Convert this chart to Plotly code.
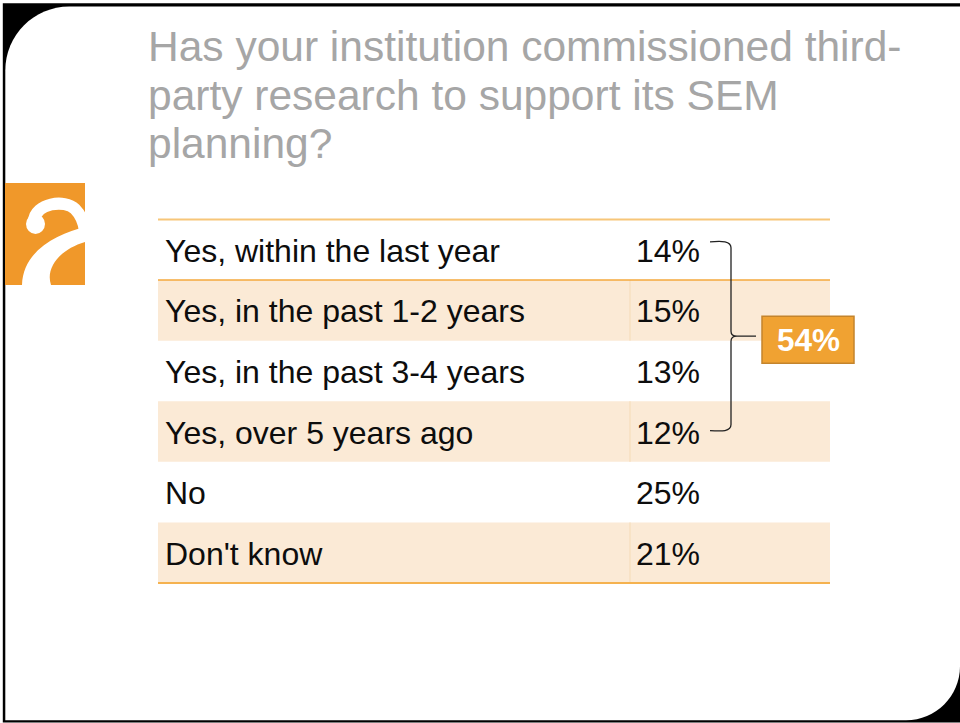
import plotly.graph_objects as go

# ---- survey data ----
question_lines = ["Has your institution commissioned third-",
                  "party research to support its SEM",
                  "planning?"]
answers = ["Yes, within the last year", "Yes, in the past 1-2 years",
           "Yes, in the past 3-4 years", "Yes, over 5 years ago",
           "No", "Don't know"]
shares = [14, 15, 13, 12, 25, 21]
yes_count = 4  # first rows are the "Yes" answers grouped by the brace

W, H = 960, 723
FONT = "Liberation Sans, Arial, Helvetica, sans-serif"

fig = go.Figure()
shapes = []
annotations = []

K = 0.5523  # bezier circle constant


def rounded_frame(x0, y0, x1, y1, r_tl, r_br):
    """Rectangle with rounded top-left and bottom-right corners (y grows downward)."""
    return (f"M {x0},{y0 + r_tl} "
            f"C {x0},{y0 + r_tl * (1 - K)} {x0 + r_tl * (1 - K)},{y0} {x0 + r_tl},{y0} "
            f"L {x1},{y0} L {x1},{y1 - r_br} "
            f"C {x1},{y1 - r_br * (1 - K)} {x1 - r_br * (1 - K)},{y1} {x1 - r_br},{y1} "
            f"L {x0},{y1} Z")


# slide frame: black edge with rounded white card
shapes.append(dict(type="rect", xref="x", yref="y", x0=2.8, y0=3.3, x1=W + 2, y1=722.6,
                   fillcolor="black", line=dict(width=0), layer="below"))
shapes.append(dict(type="path", xref="x", yref="y",
                   path=rounded_frame(5.3, 6.6, W, 720.2, 64, 54),
                   fillcolor="white", line=dict(width=0), layer="below"))

# logo block
lx, ly = 5, 183
ORANGE = "#f0982a"
shapes.append(dict(type="rect", xref="x", yref="y", x0=lx, y0=ly, x1=lx + 80, y1=ly + 102,
                   fillcolor=ORANGE, line=dict(width=0)))


def P(px, py):
    return f"{lx + px},{ly + py}"


# hook stroke of the glyph
shapes.append(dict(type="path", xref="x", yref="y",
                   path=f"M {P(29, 38)} C {P(30, 20)} {P(60, 16)} {P(70, 26)} C {P(76, 32)} {P(79, 40)} {P(80, 48)}",
                   line=dict(color="white", width=12)))
# ball terminal
shapes.append(dict(type="circle", xref="x", yref="y",
                   x0=lx + 21, y0=ly + 31, x1=lx + 40, y1=ly + 51,
                   fillcolor="white", line=dict(width=0)))
# lower swoosh
shapes.append(dict(type="path", xref="x", yref="y",
                   path=(f"M {P(80, 44)} C {P(55, 50)} {P(18, 66)} {P(17, 102)} "
                         f"L {P(46, 102)} C {P(40, 84)} {P(56, 66)} {P(80, 59)} Z"),
                   fillcolor="white", line=dict(width=0)))

# question title
title_mid = [46, 95, 143.5]
for txt, ym in zip(question_lines, title_mid):
    annotations.append(dict(x=146, y=ym, xref="x", yref="y", text=txt, showarrow=False,
                            xanchor="left", yanchor="middle",
                            font=dict(family=FONT, size=42.5, color="#a6a6a6")))

# table
tx0, tx1, tdiv = 158, 830, 630
ttop, rh = 219.5, 60.58
BEIGE = "#fbead6"
for i, (lab, val) in enumerate(zip(answers, shares)):
    y0 = ttop + i * rh
    y1 = y0 + rh
    if i % 2 == 1:
        shapes.append(dict(type="rect", xref="x", yref="y", x0=tx0, y0=y0, x1=tx1, y1=y1,
                           fillcolor=BEIGE, line=dict(width=0), layer="below"))
        shapes.append(dict(type="line", xref="x", yref="y", x0=tdiv, y0=y0, x1=tdiv, y1=y1,
                           line=dict(color="#f5dbb6", width=1)))
    yc = (y0 + y1) / 2 + 1
    annotations.append(dict(x=163, y=yc, xref="x", yref="y", text=lab, showarrow=False,
                            xanchor="left", yanchor="middle",
                            font=dict(family=FONT, size=32, color="#0d0d0d")))
    annotations.append(dict(x=634, y=yc, xref="x", yref="y", text=f"{val}%", showarrow=False,
                            xanchor="left", yanchor="middle",
                            font=dict(family=FONT, size=32, color="#0d0d0d")))

shapes.append(dict(type="line", xref="x", yref="y", x0=tx0, y0=ttop, x1=tx1, y1=ttop,
                   line=dict(color="#f7c679", width=2)))
shapes.append(dict(type="line", xref="x", yref="y", x0=tx0, y0=ttop + rh, x1=tx1, y1=ttop + rh,
                   line=dict(color="#f4a83c", width=1.5)))
shapes.append(dict(type="line", xref="x", yref="y", x0=tx0, y0=ttop + 6 * rh, x1=tx1, y1=ttop + 6 * rh,
                   line=dict(color="#f5b24f", width=2)))

# brace grouping the "Yes" rows
b_top = ttop + 0.5 * rh - 8
b_bot = ttop + (yes_count - 0.5) * rh - 1
b_mid = (b_top + b_bot) / 2
bx = 731
brace = (f"M 710,{b_top} C 722,{b_top - 1} {bx},{b_top - 1} {bx},{b_top + 6} "
         f"L {bx},{b_mid - 5} C {bx},{b_mid - 1} {bx + 3},{b_mid} {bx + 6},{b_mid} "
         f"L 756,{b_mid} M {bx + 6},{b_mid} "
         f"C {bx + 3},{b_mid} {bx},{b_mid + 1} {bx},{b_mid + 5} "
         f"L {bx},{b_bot - 6} C {bx},{b_bot + 1} 722,{b_bot + 1} 710,{b_bot}")
shapes.append(dict(type="path", xref="x", yref="y", path=brace,
                   line=dict(color="#222222", width=1.3)))

yes_total = sum(shares[:yes_count])
shapes.append(dict(type="rect", xref="x", yref="y", x0=762, y0=b_mid - 20, x1=854, y1=b_mid + 27,
                   fillcolor="#f0a232", line=dict(color="#c4842c", width=1.5)))
annotations.append(dict(x=808, y=b_mid + 4, xref="x", yref="y", text=f"<b>{yes_total}%</b>",
                        showarrow=False, xanchor="center", yanchor="middle",
                        font=dict(family=FONT, size=31.5, color="white")))

fig.update_layout(
    width=W, height=H,
    margin=dict(l=0, r=0, t=0, b=0),
    paper_bgcolor="white", plot_bgcolor="white",
    xaxis=dict(range=[0, W], visible=False, fixedrange=True),
    yaxis=dict(range=[H, 0], visible=False, fixedrange=True),
    shapes=shapes, annotations=annotations, showlegend=False,
)

fig.write_html("out.html", config={"displayModeBar": False})
